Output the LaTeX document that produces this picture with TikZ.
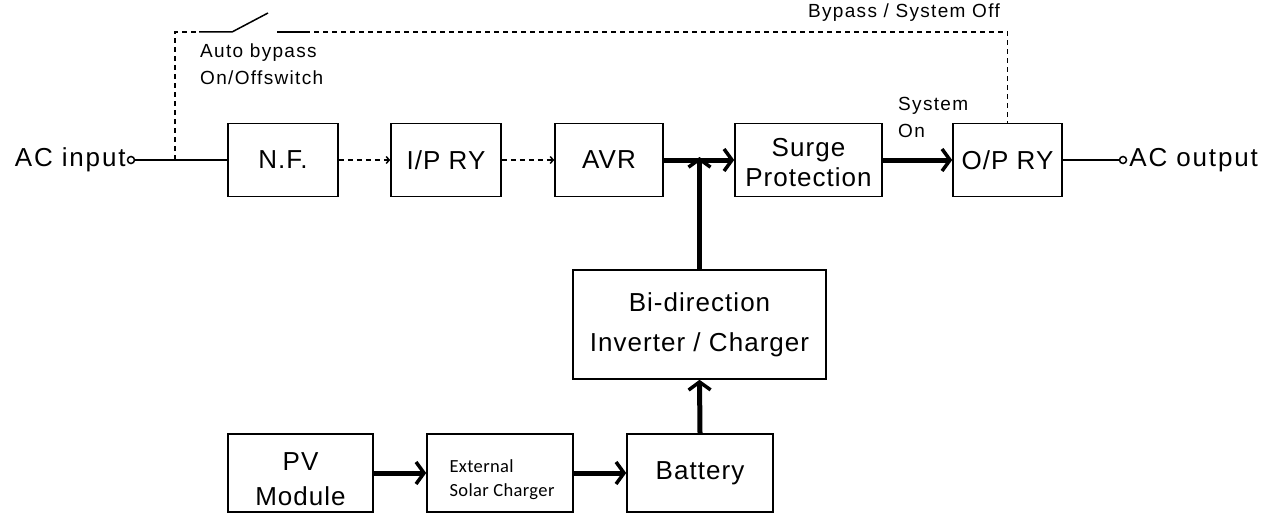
\documentclass[tikz,border=0pt]{standalone}
\usepackage{fontspec}
\setmainfont{Liberation Sans}[LetterSpace=4]
\newfontfamily\smallfont{Liberation Sans}[LetterSpace=7]
\newfontfamily\bigfont{Liberation Sans}[LetterSpace=7]
\newfontfamily\calfont{Carlito}[LetterSpace=2]
\usetikzlibrary{arrows.meta}
\begin{document}
\begin{tikzpicture}[x=1pt,y=-1pt,
  box/.style={draw,line width=1.6pt,minimum height=73pt,inner sep=0pt,align=center,font=\fontsize{26}{30}\selectfont},
  lbox/.style={box,minimum height=78pt},
  boxtext/.style={inner sep=0pt,align=center,font=\fontsize{26}{30}\selectfont},
  thin/.style={line width=1.5pt},
  dline/.style={line width=1.5pt,dash pattern=on 5pt off 4pt},
  thick arrow/.style={line width=5pt,-{Straight Barb[length=8pt,width=22pt,line width=3.5pt]}},
  dash arrow/.style={dline,-{Straight Barb[length=3pt,width=7pt,line width=1.5pt]}},
  small/.style={font=\smallfont\fontsize{19}{27}\selectfont,inner sep=0pt,align=left},
  big/.style={font=\bigfont\fontsize{26}{30}\selectfont,inner sep=0pt}
]
\useasboundingbox (0,0) rectangle (1273,524);
% top row
\node[box,minimum width=110pt] (nf) at (283,160) {N.F.};
\node[box,minimum width=110pt] (ipry) at (446,160) {I/P RY};
\node[box,minimum width=108pt] (avr) at (609,160) {AVR};
\node[box,minimum width=147pt,label={[boxtext,yshift=-3pt]center:Surge\\[0pt]Protection}] (surge) at (808.5,160) {};
\node[box,minimum width=109pt] (opry) at (1007.5,160) {O/P RY};
% middle
\node[box,minimum width=253pt,minimum height=109pt] (bidir) at (699.5,324.5) {Bi-direction\\[10pt]Inverter / Charger};
% bottom row
\node[lbox,minimum width=145pt,label={[boxtext,yshift=-6pt]center:PV\\[5pt]Module}] (pv) at (300.5,473) {};
\node[lbox,minimum width=146pt,label={[font=\calfont\fontsize{18.5}{26}\selectfont,align=left,inner sep=0pt,xshift=2pt,yshift=-7pt]center:External\\[-2pt]Solar Charger}] (ext) at (500,473) {};
\node[lbox,minimum width=146pt] (batt) at (700,473) {Battery};
% terminals
\node[draw,circle,thin,minimum size=7pt,inner sep=0pt] (inc) at (131,160) {};
\node[draw,circle,thin,minimum size=7pt,inner sep=0pt] (outc) at (1123,160) {};
\node[big,anchor=east] (acin) at ([xshift=-1pt]inc.west) {AC input};
\node[big,anchor=west] (acout) at ([xshift=2pt]outc.east) {AC output};
\coordinate (j) at (175,160);
\coordinate (jt) at (175,32);
\coordinate (s1) at (199,32);
\coordinate (s2) at (232,32);
\coordinate (s3) at (268,13);
\coordinate (s4) at (277,32);
\coordinate (s5) at (305,32);
\coordinate (ot) at (opry.north |- jt);
\coordinate (jx) at (bidir.north |- avr.east);
% connectors
\draw[thin] (inc.east) -- (j) -- (nf.west);
\draw[dline] (j) -- (jt) -- (s1);
\draw[thin] (s1) -- (s2) -- (s3);
\draw[thin] (s4) -- (s5);
\draw[dline] (s5) -- (ot) -- (opry.north);
\draw[dash arrow] (nf.east) -- (ipry.west);
\draw[dash arrow] (ipry.east) -- (avr.west);
\draw[thick arrow] (avr.east) -- (surge.west);
\draw[thick arrow] (surge.east) -- (opry.west);
\draw[thin] (opry.east) -- (outc.west);
\draw[thick arrow] (bidir.north) -- ([yshift=3pt]jx);
\draw[thick arrow] (batt.north) -- (bidir.south);
\draw[thick arrow] (pv.east) -- (ext.west);
\draw[thick arrow] (ext.east) -- (batt.west);
% labels
\node[small,anchor=north west] (lab1) at (200,44) {Auto bypass\\On/Offswitch};
\node[small,anchor=south east] (lab2) at (1000,22) {Bypass / System Off};
\node[small,anchor=north west] (lab3) at (898,97) {System\\On};
\end{tikzpicture}
\end{document}
